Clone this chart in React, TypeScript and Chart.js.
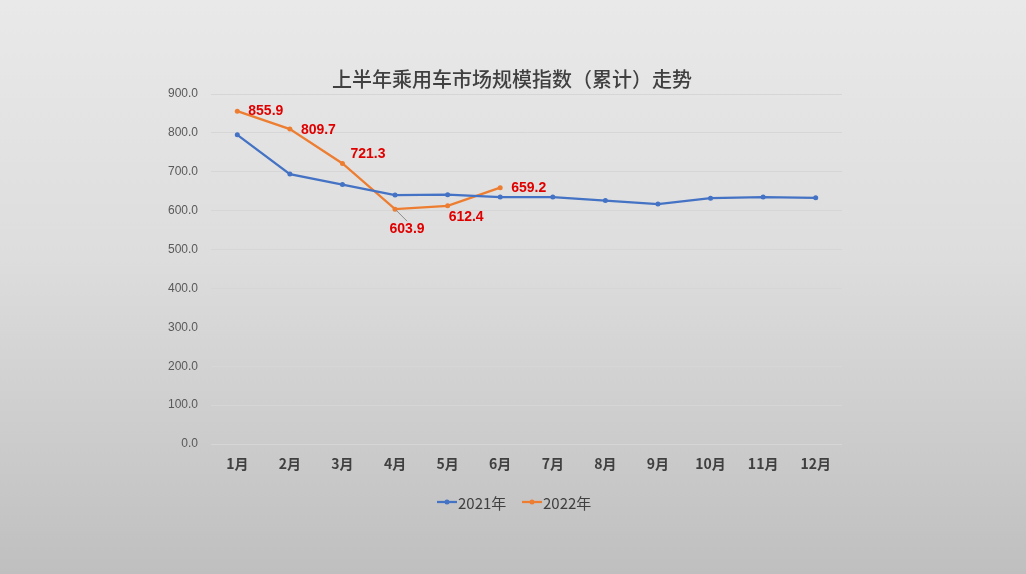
import React, { useEffect, useRef } from "react";
import { Chart, registerables } from "chart.js";

Chart.register(...registerables);

const TITLE = "上半年乘用车市场规模指数（累计）走势";
const MONTHS = ["1月", "2月", "3月", "4月", "5月", "6月", "7月", "8月", "9月", "10月", "11月", "12月"];
const SERIES_2021 = [795, 694, 667, 640, 641, 635, 635, 626, 617, 632, 635, 633];
const SERIES_2022 = [855.9, 809.7, 721.3, 603.9, 612.4, 659.2];
const SERIES_NAMES = ["2021年", "2022年"];
const COLORS = ["#4472C4", "#ED7D31"];
// label placement offsets (style) for 2022 data labels: [dx, dy, align, leader]
const LABEL_OFFSETS: [number, number, CanvasTextAlign, boolean][] = [
  [11, 0, "left", false],
  [11, 1, "left", false],
  [8, -9, "left", false],
  [12, 20, "center", true],
  [1, 11, "left", false],
  [11, 0, "left", false],
];

const W = 1026;
const H = 574;

export default function App() {
  const ref = useRef<HTMLCanvasElement | null>(null);

  useEffect(() => {
    document.body.style.margin = "0";
    const canvas = ref.current;
    if (!canvas) return;

    const bgPlugin = {
      id: "bg",
      beforeDraw(chart: any) {
        const ctx = chart.ctx;
        const g = ctx.createLinearGradient(0, 0, 0, H);
        g.addColorStop(0, "#eae9e9");
        g.addColorStop(0.45, "#dddddd");
        g.addColorStop(1, "#bfbfbf");
        ctx.save();
        ctx.fillStyle = g;
        ctx.fillRect(0, 0, W, H);
        ctx.restore();
      },
    };

    const decoPlugin = {
      id: "deco",
      afterDatasetsDraw(chart: any) {
        const ctx = chart.ctx;
        ctx.save();
        // title
        ctx.fillStyle = "#404040";
        ctx.font = '500 20px "Noto Sans CJK SC", sans-serif';
        ctx.textAlign = "center";
        ctx.textBaseline = "middle";
        ctx.fillText(TITLE, 512, 79);

        // data labels for 2022
        const meta = chart.getDatasetMeta(1);
        ctx.font = 'bold 14px "Liberation Sans", Arial, sans-serif';
        ctx.fillStyle = "#E00000";
        meta.data.forEach((pt: any, i: number) => {
          const [dx, dy, align, leader] = LABEL_OFFSETS[i];
          const x = pt.x + dx;
          const y = pt.y + dy;
          if (leader) {
            ctx.strokeStyle = "#8c8c8c";
            ctx.lineWidth = 1;
            ctx.beginPath();
            ctx.moveTo(pt.x + 1, pt.y + 1);
            ctx.lineTo(x, y - 8);
            ctx.stroke();
          }
          ctx.textAlign = align;
          ctx.textBaseline = "middle";
          ctx.fillText(SERIES_2022[i].toFixed(1), x, y);
        });

        // legend
        ctx.font = '15px "Noto Sans CJK SC", sans-serif';
        ctx.textAlign = "left";
        ctx.textBaseline = "middle";
        const ly = 502;
        const starts = [437, 522];
        SERIES_NAMES.forEach((name, i) => {
          const sx = starts[i];
          ctx.strokeStyle = COLORS[i];
          ctx.lineWidth = 2.25;
          ctx.beginPath();
          ctx.moveTo(sx, ly);
          ctx.lineTo(sx + 20, ly);
          ctx.stroke();
          ctx.fillStyle = COLORS[i];
          ctx.beginPath();
          ctx.arc(sx + 10, ly, 2.5, 0, Math.PI * 2);
          ctx.fill();
          ctx.fillStyle = "#404040";
          ctx.fillText(name, sx + 21, ly + 1);
        });
        ctx.restore();
      },
    };

    const chart = new Chart(canvas, {
      type: "line",
      data: {
        labels: MONTHS,
        datasets: [
          {
            label: SERIES_NAMES[0],
            data: SERIES_2021,
            borderColor: COLORS[0],
            backgroundColor: COLORS[0],
            borderWidth: 2.25,
            pointRadius: 2.5,
            pointBorderWidth: 0,
            tension: 0,
          },
          {
            label: SERIES_NAMES[1],
            data: SERIES_2022,
            borderColor: COLORS[1],
            backgroundColor: COLORS[1],
            borderWidth: 2.25,
            pointRadius: 2.5,
            pointBorderWidth: 0,
            tension: 0,
          },
        ],
      },
      options: {
        animation: false,
        responsive: false,
        devicePixelRatio: 1,
        layout: { padding: { left: 0, right: 184, top: 94, bottom: 0 } },
        plugins: {
          legend: { display: false },
          title: { display: false },
          tooltip: { enabled: false },
        },
        scales: {
          x: {
            offset: true,
            grid: { display: false, drawTicks: false },
            border: { display: false },
            ticks: {
              padding: 11,
              color: "#404040",
              font: { size: 14, weight: "bold", family: '"Noto Sans CJK SC", sans-serif' },
              maxRotation: 0,
            },
            afterFit(scale: any) {
              scale.height = 130;
            },
          },
          y: {
            min: 0,
            max: 900,
            grid: { color: "#d6d6d6", lineWidth: 1, drawTicks: false },
            border: { display: false },
            ticks: {
              stepSize: 100,
              padding: 13,
              color: "#595959",
              font: { size: 12, family: '"Liberation Sans", Arial, sans-serif' },
              callback: (v: any) => Number(v).toFixed(1),
            },
            afterFit(scale: any) {
              scale.width = 211;
            },
          },
        },
      },
      plugins: [bgPlugin, decoPlugin],
    });

    return () => chart.destroy();
  }, []);

  return <canvas ref={ref} width={W} height={H} style={{ display: "block", width: W, height: H }} />;
}
